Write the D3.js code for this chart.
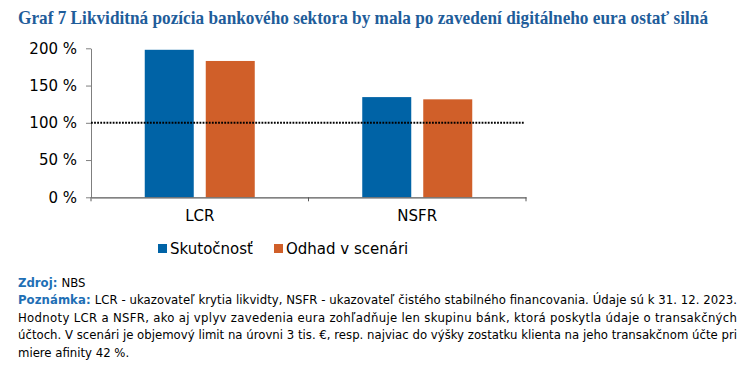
<!DOCTYPE html>
<html>
<head>
<meta charset="utf-8">
<script src="https://cdn.jsdelivr.net/npm/d3@7"></script>
<style>
body { margin: 0; background: #fff; }
svg { display: block; }
</style>
</head>
<body>
<script>
// data
var categories = ["LCR", "NSFR"];
var seriesNames = ["Skutočnosť", "Odhad v scenári"];
var actual = [198, 134.5];
var scenario = [183, 131.5];
var yTicks = [0, 50, 100, 150, 200];
var threshold = 100;

var titleText = "Graf 7 Likviditná pozícia bankového sektora by mala po zavedení digitálneho eura ostať silná";
var noteLines = [
  "LCR - ukazovateľ krytia likvidty, NSFR - ukazovateľ čistého stabilného financovania. Údaje sú k 31. 12. 2023.",
  "Hodnoty LCR a NSFR, ako aj vplyv zavedenia eura zohľadňuje len skupinu bánk, ktorá poskytla údaje o transakčných",
  "účtoch. V scenári je objemový limit na úrovni 3 tis. €, resp. najviac do výšky zostatku klienta na jeho transakčnom účte pri",
  "miere afinity 42 %."
];

var colors = ["#0063a6", "#d05f29"];
var W = 752, H = 371;
var plot = { left: 91, right: 526, top: 48.3, bottom: 197.3 };

var svg = d3.select("body").append("svg")
  .attr("width", W)
  .attr("height", H);

// title
svg.append("text")
  .attr("x", 18)
  .attr("y", 23.5)
  .attr("textLength", 690)
  .attr("lengthAdjust", "spacingAndGlyphs")
  .style("font-family", "'Liberation Serif', serif")
  .style("font-weight", "bold")
  .style("font-size", "19px")
  .style("fill", "#1f5d9a")
  .text(titleText);

var x0 = d3.scaleBand().domain(categories).range([plot.left, plot.right]);
var bw = x0.bandwidth();
var x1 = d3.scaleBand().domain([0, 1])
  .range([bw / 2 - 55, bw / 2 + 55])
  .paddingInner(12 / 61);
var y = d3.scaleLinear().domain([0, 200]).range([plot.bottom, plot.top]);

var table = categories.map(function(c, i) {
  return { cat: c, vals: [actual[i], scenario[i]] };
});

// bars
var g = svg.selectAll(".grp")
  .data(table)
  .enter().append("g")
  .attr("transform", function(d) { return "translate(" + x0(d.cat) + ",0)"; });

g.selectAll("rect")
  .data(function(d) { return d.vals; })
  .enter().append("rect")
  .attr("x", function(d, i) { return x1(i); })
  .attr("width", x1.bandwidth())
  .attr("y", function(d) { return y(d); })
  .attr("height", function(d) { return y(0) - y(d); })
  .style("fill", function(d, i) { return colors[i]; });

// y axis
var yAxis = svg.append("g")
  .attr("transform", "translate(" + plot.left + ",0)")
  .call(d3.axisLeft(y).tickValues(yTicks).tickSize(5).tickSizeOuter(0).tickPadding(9)
    .tickFormat(function(d) { return d + " %"; }));
yAxis.select(".domain").style("stroke", "#7f7f7f");
yAxis.selectAll(".tick line").style("stroke", "#7f7f7f");
yAxis.selectAll("text")
  .style("font-family", "'DejaVu Sans', Verdana, sans-serif")
  .style("font-size", "15px")
  .style("fill", "#000");

// x axis
var xAxis = svg.append("g")
  .attr("transform", "translate(0," + plot.bottom + ")")
  .call(d3.axisBottom(x0).tickSize(0).tickPadding(13));
xAxis.select(".domain").style("stroke", "#595959").style("stroke-width", 1.3);
xAxis.selectAll("text")
  .style("font-family", "'DejaVu Sans', Verdana, sans-serif")
  .style("font-size", "15px")
  .style("fill", "#000");
// boundary ticks between categories
var edges = categories.map(function(c) { return x0(c); }).concat([x0.range()[1]]);
svg.selectAll(".edge")
  .data(edges)
  .enter().append("line")
  .attr("x1", function(d) { return d; })
  .attr("x2", function(d) { return d; })
  .attr("y1", plot.bottom)
  .attr("y2", plot.bottom + 4)
  .style("stroke", "#595959");

// threshold line
svg.append("line")
  .attr("x1", plot.left)
  .attr("x2", plot.right - 1)
  .attr("y1", y(threshold))
  .attr("y2", y(threshold))
  .style("stroke", "#000")
  .style("stroke-width", 2)
  .style("stroke-dasharray", "1.8,1.3");

// legend
var leg = svg.append("g");
var legX = [158, 274];
seriesNames.forEach(function(name, i) {
  leg.append("rect")
    .attr("x", legX[i])
    .attr("y", 244)
    .attr("width", 9)
    .attr("height", 9)
    .style("fill", colors[i]);
  leg.append("text")
    .attr("x", legX[i] + 12)
    .attr("y", 254)
    .style("font-family", "'DejaVu Sans', Verdana, sans-serif")
    .style("font-size", "15px")
    .text(name);
});

// source and note
var noteFont = "'DejaVu Sans Condensed', 'DejaVu Sans', sans-serif";
var src = svg.append("text")
  .attr("x", 18)
  .attr("y", 287)
  .style("font-family", noteFont)
  .style("font-size", "13px");
src.append("tspan").style("font-weight", "bold").style("fill", "#1f6fb5").text("Zdroj: ");
src.append("tspan").text("NBS");

noteLines.forEach(function(line, i) {
  var t = svg.append("text")
    .attr("x", 18)
    .attr("y", 304 + i * 17.7)
    .style("font-family", noteFont)
    .style("font-size", "13px");
  if (i < noteLines.length - 1) {
    t.attr("textLength", 719).attr("lengthAdjust", "spacing");
  }
  if (i === 0) {
    t.append("tspan").style("font-weight", "bold").style("fill", "#1f6fb5").text("Poznámka: ");
  }
  t.append("tspan").text(line);
});
</script>
</body>
</html>
